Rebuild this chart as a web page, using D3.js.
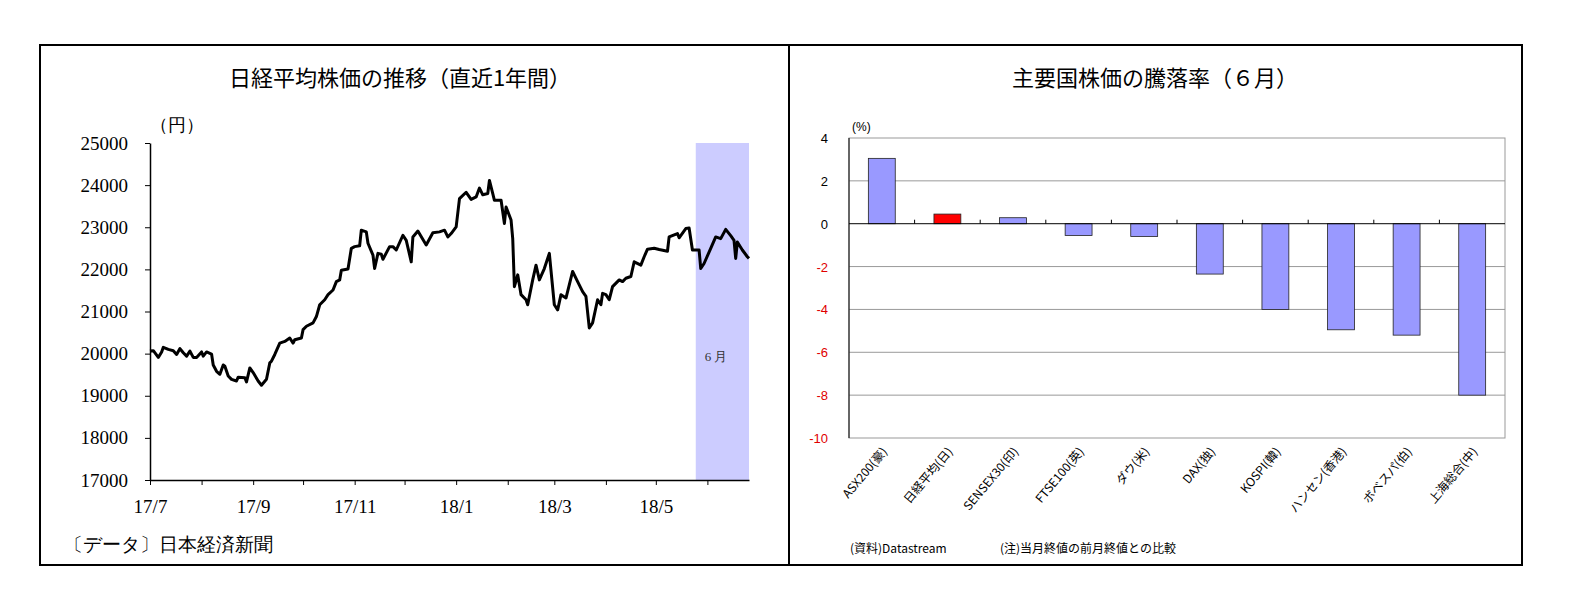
<!DOCTYPE html>
<html><head><meta charset="utf-8">
<script src="https://cdn.jsdelivr.net/npm/d3@7"></script>
<style>body{margin:0;background:#fff}</style>
</head><body>
<div id="chart"></div>
<script>
// Nikkei: days since 2017-07-01 and closing values
var nikkeiDays = [0,2,5,7,8,11,14,16,18,20,22,24,26,28,31,32,34,37,38,40,42,44,45,47,49,52,53,57,58,60,62,65,67,70,72,73,75,78,81,84,86,87,91,92,94,98,100,102,105,107,110,112,114,115,119,121,123,126,127,130,131,134,135,137,139,140,144,146,148,152,154,157,158,161,166,170,174,177,179,181,184,186,190,193,196,198,200,203,204,206,207,211,213,214,217,218,219,221,223,226,227,230,232,234,237,240,243,245,247,250,254,257,260,262,264,266,269,271,272,274,276,278,282,284,286,289,291,295,297,299,303,306,311,312,317,318,322,324,326,330,331,333,337,340,343,346,349,351,352,353,356,359,360];
var nikkeiValues = [20060,20070,19910,20040,20150,20100,20070,19980,20120,20020,19940,20060,19910,19910,20040,19940,20040,19990,19730,19580,19510,19730,19700,19470,19390,19350,19440,19430,19330,19660,19550,19350,19250,19390,19780,19820,19980,20250,20290,20370,20250,20330,20370,20570,20650,20730,20880,21160,21280,21400,21510,21710,21750,21980,22010,22500,22540,22560,22930,22890,22620,22340,22020,22380,22360,22240,22540,22540,22460,22810,22690,22180,22770,22910,22580,22870,22890,22930,22770,22850,23010,23680,23830,23660,23720,23930,23770,23800,24110,23800,23640,23640,23090,23480,23170,22730,21590,21870,21400,21280,21160,21750,22100,21750,22020,22380,21160,21040,21400,21320,21950,21710,21470,21360,20610,20730,21280,21160,21430,21400,21280,21590,21750,21710,21790,21830,22180,22100,22300,22480,22500,22470,22430,22770,22850,22750,22970,22980,22460,22460,22020,22140,22500,22770,22730,22950,22800,22690,22260,22650,22460,22300,22260];
var yTicksLeft = [17000,18000,19000,20000,21000,22000,23000,24000,25000];

// June returns
var markets = ["ASX200(豪)","日経平均(日)","SENSEX30(印)","FTSE100(英)","ダウ(米)","DAX(独)","KOSPI(韓)","ハンセン(香港)","ボベスパ(伯)","上海総合(中)"];
var returns = [3.05,0.45,0.28,-0.55,-0.6,-2.35,-4.0,-4.95,-5.2,-8.0];
var yTicksRight = [4,2,0,-2,-4,-6,-8,-10];

var svg = d3.select("#chart").append("svg").attr("width",1582).attr("height",612);

// frame
svg.append("rect").attr("x",40).attr("y",45).attr("width",1482).attr("height",520)
  .attr("fill","none").attr("stroke","#000").attr("stroke-width",2);
svg.append("line").attr("x1",789).attr("x2",789).attr("y1",45).attr("y2",565)
  .attr("stroke","#000").attr("stroke-width",2);

// ---------- left chart ----------
var start = new Date(2017,6,1);
var end = new Date(2018,5,26);
var x = d3.scaleTime().domain([start, end]).range([150,749]);
var y = d3.scaleLinear().domain([17000,25000]).range([480,143]);

svg.append("text").attr("x",400).attr("y",86).attr("text-anchor","middle")
  .style("font-family","Noto Sans CJK JP").style("font-size","22px").text("日経平均株価の推移（直近1年間）");

var shadeStart = new Date(2018,4,25);
svg.append("rect").attr("x",x(shadeStart)).attr("y",y(25000))
  .attr("width",x(end)-x(shadeStart)).attr("height",y(17000)-y(25000))
  .attr("fill","#ccccff");
svg.append("text").attr("x",716).attr("y",361).attr("text-anchor","middle")
  .style("font-family","Liberation Serif").style("font-size","13px").attr("fill","#333").text("6 月");

var gy = svg.append("g").attr("transform","translate(150,0)")
  .call(d3.axisLeft(y).tickValues(yTicksLeft).tickSize(5).tickSizeOuter(0).tickFormat(d3.format("d")));
gy.selectAll("text").style("font-family","Liberation Serif").style("font-size","19px").attr("fill","#000").attr("x",-22);

var gx = svg.append("g").attr("transform","translate(0,480)")
  .call(d3.axisBottom(x).ticks(d3.timeMonth.every(1)).tickSize(5).tickSizeOuter(0)
    .tickFormat(function(d){ return d.getMonth()%2==0 ? d3.timeFormat("%y/")(d)+(d.getMonth()+1) : ""; }));
gx.selectAll("text").style("font-family","Liberation Serif").style("font-size","19px").attr("fill","#000").attr("dy","1.3em");
svg.selectAll(".domain").attr("stroke","#000").attr("stroke-width",1.5);

svg.append("text").attr("x",150).attr("y",131).style("font-family","Liberation Serif").style("font-size","18px").text("（円）");

var line = d3.line()
  .x(function(d,i){ return x(d3.timeDay.offset(start,nikkeiDays[i])); })
  .y(function(d){ return y(d); });
svg.append("path").datum(nikkeiValues).attr("d",line).attr("fill","none")
  .attr("stroke","#000").attr("stroke-width",3).attr("stroke-linejoin","round");

svg.append("text").attr("x",64).attr("y",551).style("font-family","Liberation Serif").style("font-size","19px")
  .text("〔データ〕日本経済新聞");

// ---------- right chart ----------
svg.append("text").attr("x",1155).attr("y",86).attr("text-anchor","middle")
  .style("font-family","Noto Sans CJK JP").style("font-size","22px").text("主要国株価の騰落率（６月）");

var xb = d3.scaleBand().domain(markets).range([849,1505]).paddingInner(0.59).paddingOuter(0.295);
var yb = d3.scaleLinear().domain([-10,4]).range([438,138]);

svg.append("rect").attr("x",849).attr("y",138).attr("width",656).attr("height",300)
  .attr("fill","none").attr("stroke","#999");
svg.selectAll(".grid").data(yTicksRight.filter(function(v){return v!=0 && v!=4 && v!=-10;})).enter()
  .append("line").attr("x1",849).attr("x2",1505).attr("y1",function(d){return yb(d);}).attr("y2",function(d){return yb(d);})
  .attr("stroke","#999");

svg.selectAll(".bar").data(returns).enter().append("rect")
  .attr("x",function(d,i){return xb(markets[i]);})
  .attr("width",xb.bandwidth())
  .attr("y",function(d){return yb(Math.max(0,d));})
  .attr("height",function(d){return Math.abs(yb(d)-yb(0));})
  .attr("fill",function(d,i){return i==1 ? "#ff0000" : "#9999ff";})
  .attr("stroke","#222").attr("stroke-width",0.8);

svg.append("line").attr("x1",849).attr("x2",1505).attr("y1",yb(0)).attr("y2",yb(0)).attr("stroke","#000");
svg.selectAll(".cat").data(markets.slice(1)).enter().append("line")
  .attr("x1",function(d){return xb(d)-xb.step()*0.295;}).attr("x2",function(d){return xb(d)-xb.step()*0.295;})
  .attr("y1",yb(0)).attr("y2",yb(0)-4).attr("stroke","#000");
svg.append("line").attr("x1",849).attr("x2",849).attr("y1",138).attr("y2",438).attr("stroke","#000");

svg.selectAll(".yl").data(yTicksRight).enter().append("text")
  .attr("x",828).attr("y",function(d){return yb(d)+5;}).attr("text-anchor","end")
  .style("font-family","Liberation Sans Narrow, Liberation Sans").style("font-size","13px")
  .attr("fill",function(d){return d<0 ? "#e00000" : "#000";}).text(function(d){return d;});
svg.append("text").attr("x",852).attr("y",131).style("font-family","Liberation Sans").style("font-size","12px").text("(%)");

svg.selectAll(".xl").data(markets).enter().append("text")
  .attr("transform",function(d){return "translate("+(xb(d)+xb.bandwidth()/2+6)+",452) rotate(-50)";})
  .attr("text-anchor","end")
  .style("font-family","Noto Sans CJK JP").style("font-size","12px").text(function(d){return d;});

svg.append("text").attr("x",850).attr("y",553).style("font-family","Noto Sans CJK JP").style("font-size","12px").text("(資料)Datastream");
svg.append("text").attr("x",1000).attr("y",553).style("font-family","Noto Sans CJK JP").style("font-size","12px").text("(注)当月終値の前月終値との比較");
</script>
</body></html>
